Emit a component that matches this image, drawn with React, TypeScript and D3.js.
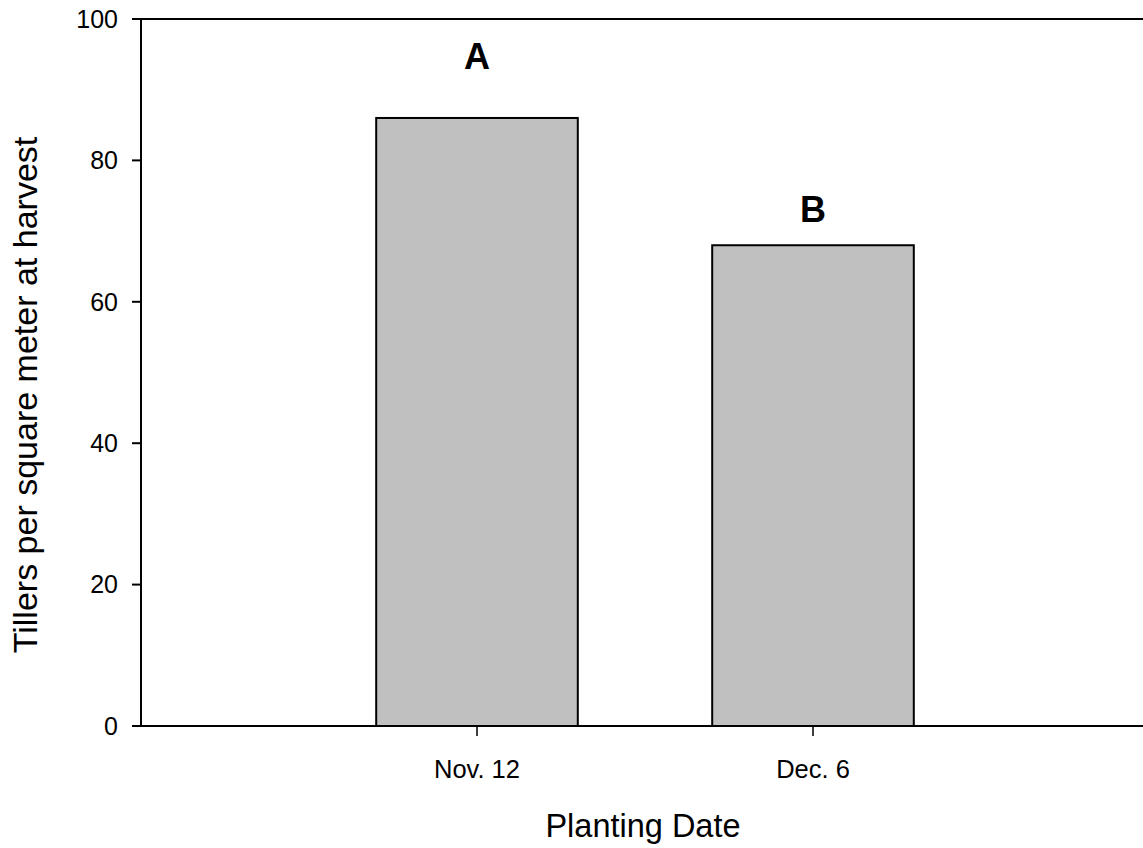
import React from "react";
import * as d3 from "d3";

const categories = ["Nov. 12", "Dec. 6"];
const values = [86, 68];
const letters = ["A", "B"];
const letterLevels = [92.9, 71.3];
const yTicks = [0, 20, 40, 60, 80, 100];

const W = 1143;
const H = 848;
const left = 141;
const top = 19;
const bottom = 726;
const rightEdge = 1149;

export default function App() {
  const x = d3.scaleLinear().domain([0, categories.length + 1]).range([left, rightEdge]);
  const y = d3.scaleLinear().domain([0, 100]).range([bottom, top]);
  const barW = x(0.6) - x(0);
  const font = "Liberation Sans, Arial, sans-serif";

  return (
    <svg
      width={W}
      height={H}
      style={{ position: "absolute", left: 0, top: 0, background: "#fff" }}
      fontFamily={font}
    >
      {values.map((v, i) => (
        <rect
          key={i}
          x={x(i + 1) - barW / 2}
          y={y(v)}
          width={barW}
          height={y(0) - y(v)}
          fill="#c0c0c0"
          stroke="#000"
          strokeWidth={2}
        />
      ))}
      {letters.map((l, i) => (
        <text
          key={"l" + i}
          x={x(i + 1)}
          y={y(letterLevels[i])}
          textAnchor="middle"
          fontSize={36}
          fontWeight="bold"
        >
          {l}
        </text>
      ))}
      <line x1={left} x2={W} y1={top} y2={top} stroke="#000" strokeWidth={2} />
      <line x1={left} x2={W} y1={bottom} y2={bottom} stroke="#000" strokeWidth={2} />
      <line x1={left} x2={left} y1={top - 1} y2={bottom + 1} stroke="#000" strokeWidth={2} />
      {yTicks.map((t) => (
        <g key={t}>
          <line x1={left - 9} x2={left} y1={y(t)} y2={y(t)} stroke="#000" strokeWidth={2} />
          <text x={left - 23} y={y(t)} dy="0.35em" textAnchor="end" fontSize={25}>
            {t}
          </text>
        </g>
      ))}
      {categories.map((c, i) => (
        <g key={c}>
          <line x1={x(i + 1)} x2={x(i + 1)} y1={bottom} y2={bottom + 10} stroke="#000" strokeWidth={1.5} />
          <text x={x(i + 1)} y={778} textAnchor="middle" fontSize={25.5}>
            {c}
          </text>
        </g>
      ))}
      <text x={643} y={837} textAnchor="middle" fontSize={32.5}>
        Planting Date
      </text>
      <text
        transform={`translate(37, 395) rotate(-90)`}
        textAnchor="middle"
        fontSize={34}
      >
        Tillers per square meter at harvest
      </text>
    </svg>
  );
}
